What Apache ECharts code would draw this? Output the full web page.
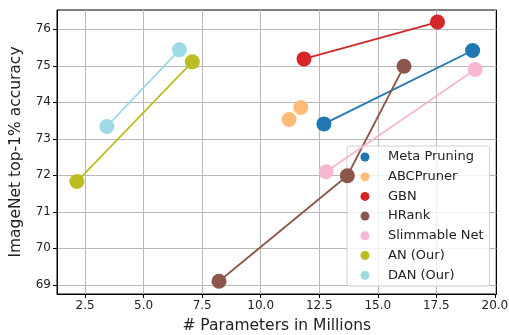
<!DOCTYPE html>
<html><head><meta charset="utf-8">
<script src="https://cdn.jsdelivr.net/npm/echarts@6/dist/echarts.min.js"></script>
<style>html,body{margin:0;padding:0;background:#fff}#c{width:509px;height:335px}</style>
</head><body><div id="c"></div>
<script>
const seriesNames = ['Meta Pruning','ABCPruner','GBN','HRank','Slimmable Net','AN (Our)','DAN (Our)'];
const seriesColors = ['#1f77b4','#ffbb78','#d62728','#8c564b','#f7b6d2','#bcbd22','#9edae5'];
const metaPruning = [[12.7,73.41],[19.05,75.42]];
const abcPruner = [[11.21,73.53],[11.71,73.86]];
const gbn = [[11.85,75.19],[17.55,76.2]];
const hrank = [[8.22,69.1],[13.7,71.99],[16.12,74.99]];
const slimmable = [[12.79,72.1],[19.16,74.9]];
const an = [[2.15,71.83],[7.08,75.11]];
const dan = [[3.43,73.34],[6.53,75.44]];
const xTicks = [2.5,5.0,7.5,10.0,12.5,15.0,17.5,20.0];
const yTicks = [69,70,71,72,73,74,75,76];
const seriesData = [metaPruning, abcPruner, gbn, hrank, slimmable, an, dan];
const hasLine = [true,false,true,true,true,true,true];

const font = 'DejaVu Sans';
const chart = echarts.init(document.getElementById('c'));
chart.setOption({
  animation:false,
  textStyle:{fontFamily:font},
  grid:{left:57,top:10,right:12.5,bottom:41,show:true,borderColor:'#000',borderWidth:1,backgroundColor:'transparent',outerBoundsMode:'none',containLabel:false},
  xAxis:{type:'value',min:1.3,max:20.07,
    name:'# Parameters in Millions',nameLocation:'middle',nameGap:23.5,
    nameTextStyle:{fontSize:15.5,color:'#222',fontFamily:font},
    axisLine:{show:true,lineStyle:{color:'#000'}},
    axisTick:{show:true,length:4,customValues:xTicks,lineStyle:{color:'#000'}},
    axisLabel:{customValues:xTicks,fontSize:12,color:'#222',margin:6,formatter:v=>v.toFixed(1)},
    splitLine:{show:true,lineStyle:{color:'#b8b8b8',width:1}}
  },
  yAxis:{type:'value',min:68.75,max:76.53,
    name:'ImageNet top-1% accuracy',nameLocation:'middle',nameGap:33,
    nameTextStyle:{fontSize:15.5,color:'#222',fontFamily:font},
    axisLine:{show:true,lineStyle:{color:'#000'}},
    axisTick:{show:true,length:4,customValues:yTicks,lineStyle:{color:'#000'}},
    axisLabel:{customValues:yTicks,fontSize:12,color:'#222',margin:6},
    splitLine:{show:true,lineStyle:{color:'#b8b8b8',width:1}}
  },
  legend:{orient:'vertical',left:347,top:146,
    padding:[4.5,6,4.5,13.5],itemGap:6.7,itemWidth:9,itemHeight:9,
    icon:'circle',backgroundColor:'rgba(255,255,255,0.8)',borderColor:'#d0d0d0',borderWidth:1,borderRadius:3,
    textStyle:{fontSize:13,lineHeight:13,color:'#222',fontFamily:font,padding:[0,0,0,13.5]},
    data:seriesNames},
  series:seriesNames.map((n,i)=>({
    name:n,type:'line',data:seriesData[i],color:seriesColors[i],
    symbol:'circle',symbolSize:15,showSymbol:true,
    lineStyle:{width:hasLine[i]?1.8:0,color:seriesColors[i]},
    itemStyle:{color:seriesColors[i]},
    z:2+i
  }))
});
</script></body></html>
